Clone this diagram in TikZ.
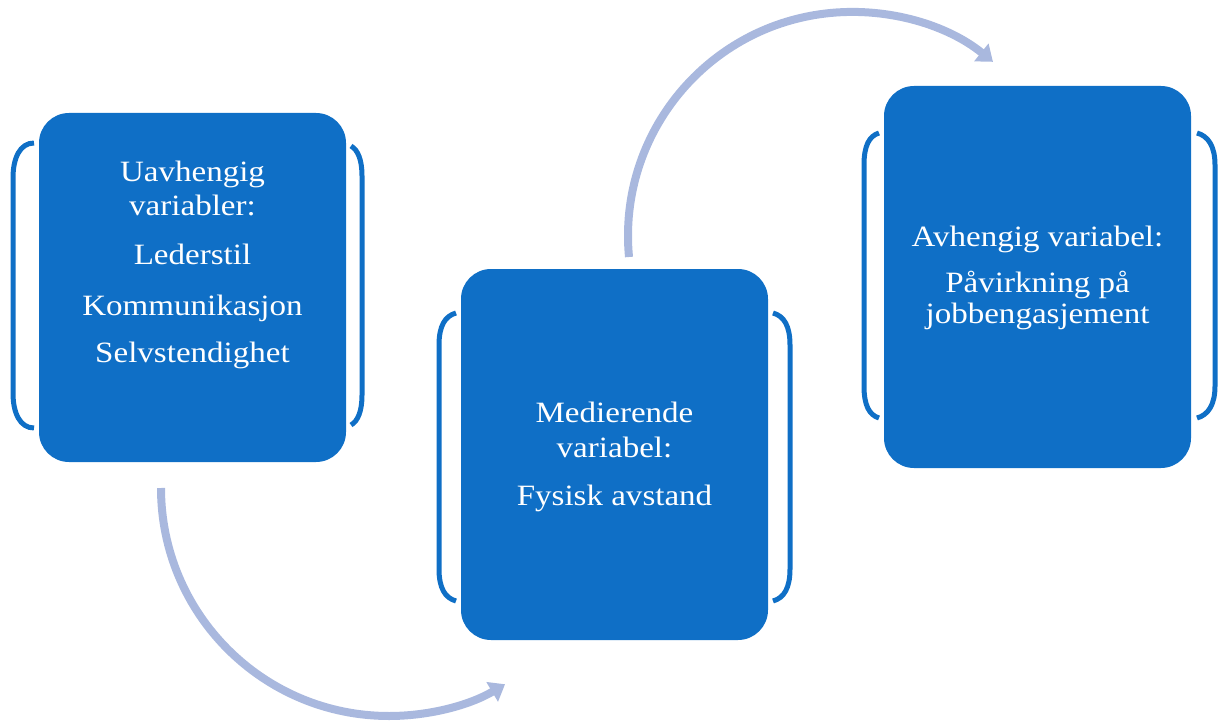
\documentclass[tikz,border=0pt]{standalone}
\usepackage{fontspec}
\setmainfont{Liberation Serif}[FakeStretch=1.12]
\usetikzlibrary{arrows.meta}
\definecolor{boxblue}{HTML}{0F6FC6}
\definecolor{arrowblue}{HTML}{A9B8DE}
\begin{document}
\begin{tikzpicture}[x=1pt,y=-1pt,
  vbox/.style={draw=none, fill=boxblue, rounded corners=30pt, inner sep=0pt, minimum width=307pt},
  lbl/.style={text=white, font=\fontsize{29.5}{34}\selectfont, anchor=base, inner sep=0pt},
  brk/.style={draw=boxblue, line width=5pt},
  flow/.style={draw=arrowblue, line width=8pt, -{Triangle[width=22pt,length=15pt]}}]
\useasboundingbox (0,0) rectangle (1226,722);

% brackets
\draw[brk] (34,143) .. controls (20,143) and (13,158) .. (13,178) -- (13,393) .. controls (13,413) and (20,428) .. (34,428);
\draw[brk] (351,146) .. controls (358,150) and (362,160) .. (362,176) -- (362,395) .. controls (362,411) and (358,421) .. (351,425);
\draw[brk] (456,313) .. controls (445,316) and (439,326) .. (439,345) -- (439,569) .. controls (439,588) and (445,598) .. (456,601);
\draw[brk] (773,313) .. controls (784,316) and (790,326) .. (790,345) -- (790,569) .. controls (790,588) and (784,598) .. (773,601);
\draw[brk] (879,133) .. controls (869,136) and (864,146) .. (864,165) -- (864,386) .. controls (864,405) and (869,415) .. (879,418);
\draw[brk] (1197,133) .. controls (1208,136) and (1215,146) .. (1215,165) -- (1215,386) .. controls (1215,405) and (1208,415) .. (1197,418);

% boxes
\node[vbox, minimum height=349pt] (b1) at (192.5,287.5) {};
\node[vbox, minimum height=371pt] (b2) at (614.5,454.5) {};
\node[vbox, minimum height=382pt] (b3) at (1037.5,277) {};

% texts
\node[lbl] (t1a) at (192.5,182) {Uavhengig};
\node[lbl] (t1b) at (192.5,215) {variabler:};
\node[lbl] (t1c) at (192.5,265) {Lederstil};
\node[lbl] (t1d) at (192.5,315) {Kommunikasjon};
\node[lbl] (t1e) at (192.5,362) {Selvstendighet};

\node[lbl] (t2a) at (614.5,422) {Medierende};
\node[lbl] (t2b) at (614.5,457) {variabel:};
\node[lbl] (t2c) at (614.5,505) {Fysisk avstand};

\node[lbl] (t3a) at (1037.5,247) {Avhengig variabel:};
\node[lbl] (t3b) at (1037.5,292) {Påvirkning på};
\node[lbl] (t3c) at (1037.5,323) {jobbengasjement};

% arrows
\coordinate (lowstart) at (161,488);
\coordinate (upstart) at (629,257);
\draw[flow] (lowstart) arc[start angle=180, end angle=59.4, radius=228];
\draw[flow] (upstart) arc[start angle=174.6, end angle=309, radius=224];
\end{tikzpicture}
\end{document}
